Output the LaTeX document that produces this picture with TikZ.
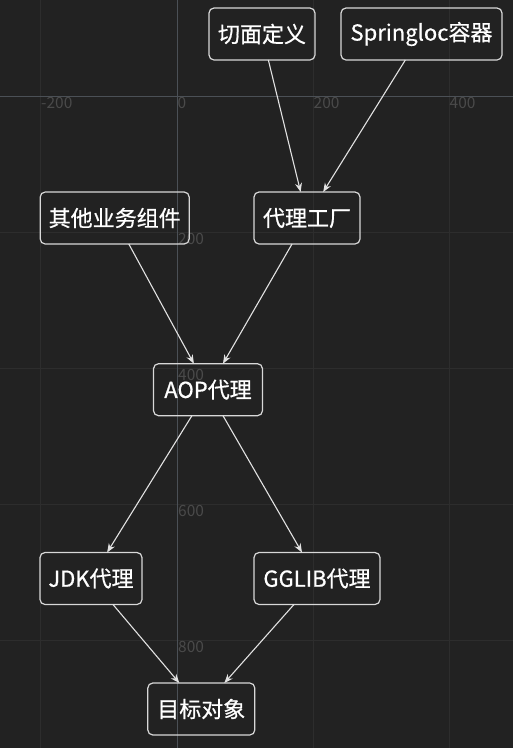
\documentclass[tikz,border=0pt]{standalone}
\usepackage{fontspec}
\setmainfont{Noto Sans CJK SC}
\newfontfamily\nodefont{Noto Sans CJK SC}[FakeBold=0.7]
\usetikzlibrary{arrows.meta}
\definecolor{bgc}{HTML}{222222}
\definecolor{gridc}{HTML}{2D2D2D}
\definecolor{axisc}{HTML}{4B5056}
\definecolor{labc}{HTML}{4A4A4A}
\definecolor{boxc}{HTML}{D8D8D8}
\definecolor{arrc}{HTML}{E2E2E2}
\tikzset{
  box/.style={draw=boxc, line width=1.2pt, rounded corners=5pt, text=white,
    font=\nodefont\fontsize{22}{26}\selectfont, minimum height=52pt, inner sep=0pt, outer sep=0pt},
  conn/.style={draw=arrc, line width=1.1pt, -{Stealth[length=9pt,width=7pt,inset=3pt]}},
  axlab/.style={text=labc, font=\fontsize{15.5}{17}\selectfont, anchor=north west, inner sep=0pt}
}
\begin{document}
\begin{tikzpicture}[x=1pt,y=-1pt]
\fill[bgc] (0,0) rectangle (513,748);
\useasboundingbox (0,0) rectangle (513,748);
% grid
\foreach \gx in {40,313,449} \draw[gridc, line width=1pt] (\gx,0) -- (\gx,748);
\foreach \gy in {232,368,504,640} \draw[gridc, line width=1pt] (0,\gy) -- (513,\gy);
\draw[axisc, line width=1pt] (177,0) -- (177,748);
\draw[axisc, line width=1pt] (0,96) -- (513,96);
% axis labels
\node[axlab] (lxm200) at (41,97.5) {-200};
\node[axlab] (lx0) at (177.5,97.5) {0};
\node[axlab] (lx200) at (313.5,97.5) {200};
\node[axlab] (lx400) at (449.5,97.5) {400};
\node[axlab] (ly200) at (178,233) {200};
\node[axlab] (ly400) at (178,369) {400};
\node[axlab] (ly600) at (178,505) {600};
\node[axlab] (ly800) at (178,641) {800};
% nodes
\node[box, minimum width=106pt] (qm) at (262,34) {切面定义};
\node[box, minimum width=161pt] (sp) at (421.5,34) {Springloc容器};
\node[box, minimum width=149pt] (qt) at (114.7,218) {其他业务组件};
\node[box, minimum width=106pt] (dl) at (307,218) {代理工厂};
\node[box, minimum width=109pt] (aop) at (208,389.7) {AOP代理};
\node[box, minimum width=102pt] (jdk) at (91,578.5) {JDK代理};
\node[box, minimum width=126pt] (gg) at (317,578.5) {GGLIB代理};
\node[box, minimum width=107pt] (mb) at (201.3,709) {目标对象};
% connectors
\draw[conn] (qm) -- (dl);
\draw[conn] (sp) -- (dl);
\draw[conn] (qt) -- (aop);
\draw[conn] (dl) -- (aop);
\draw[conn] (aop) -- (jdk);
\draw[conn] (aop) -- (gg);
\draw[conn] (jdk) -- (mb);
\draw[conn] (gg) -- (mb);
\end{tikzpicture}
\end{document}
